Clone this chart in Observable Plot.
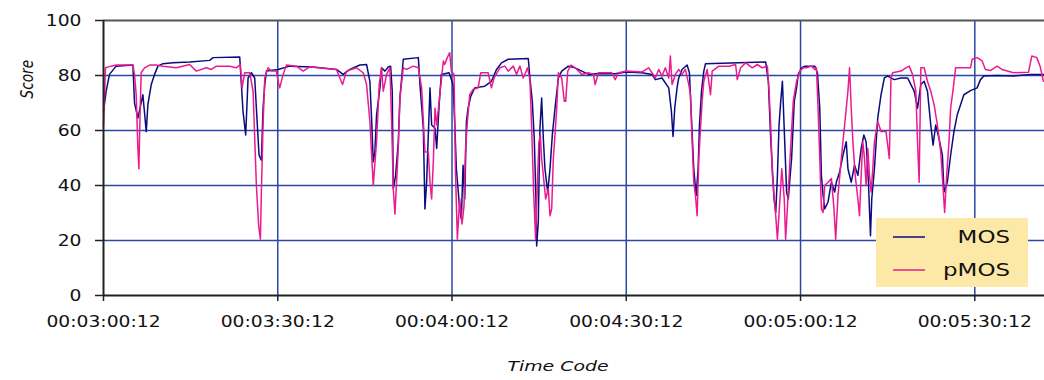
<!DOCTYPE html>
<html>
<head>
<meta charset="utf-8">
<script src="https://cdn.jsdelivr.net/npm/d3@7"></script>
<script src="https://cdn.jsdelivr.net/npm/@observablehq/plot@0.6"></script>
<style>
  html, body { margin: 0; padding: 0; background: #fff; }
</style>
</head>
<body>
<div id="chart"></div>
<script>
// ---- data (seconds after 00:03:00:12, score) ----
const seriesNames = ["MOS", "pMOS"];
const tickSeconds = [0, 30, 60, 90, 120, 150];
const tickLabels = ["00:03:00:12", "00:03:30:12", "00:04:00:12", "00:04:30:12", "00:05:00:12", "00:05:30:12"];
const yTicks = [0, 20, 40, 60, 80, 100];

const mosTime = [0,0.46,1.03,2.18,5.06,5.34,5.92,6.78,7.36,7.64,8.22,8.79,9.37,10.23,11.95,14.83,18.28,18.85,23.45,24.02,24.48,24.89,25.46,26.03,26.32,26.78,27.18,27.47,27.76,28.05,30.06,32.07,36.1,40.1,41.26,42.41,44.14,45.29,45.86,46.15,46.44,46.72,47.01,47.59,47.87,48.45,49.02,49.43,49.71,49.89,50.29,50.75,51.03,51.61,54.2,54.48,55.06,55.34,55.63,56.21,56.49,57.07,57.36,57.8,58.16,59.5,
60.17,60.46,60.75,61.32,61.61,61.90,62.19,62.48,62.76,63.22,63.91,65.64,66.79,67.66,68.52,69.67,73.13,73.41,73.82,74.16,74.45,74.57,74.85,75.14,75.43,75.72,76.0,76.47,76.87,77.27,77.73,78.31,78.88,80.03,81.19,82.34,83.49,85.22,88.09,89.99,92.70,94.43,95.0,96.15,97.31,97.77,98.05,98.34,98.74,99.03,99.61,100.47,100.87,101.22,101.62,102.03,102.37,102.60,102.95,103.35,103.64,114.0,114.46,114.86,115.15,115.44,115.73,116.02,116.30,116.59,116.88,
117.32,117.60,117.89,118.46,118.92,119.32,119.60,120.17,120.74,122.45,122.91,123.31,123.59,123.88,124.16,124.73,125.31,125.88,126.16,126.73,127.30,127.87,128.16,128.73,129.30,129.87,130.44,130.90,131.29,131.69,132.04,132.26,132.72,133.29,133.86,134.43,135.0,136.14,137.28,138.43,139.0,139.57,140.14,140.71,141.28,141.85,142.42,142.82,143.27,143.84,144.42,144.70,145.27,145.84,146.41,146.98,147.55,148.12,149.26,150.40,150.98,151.55,153.83,156.68,159.53,161.93];
const mosScore = [66.9,74.3,80.4,83.4,83.8,70.0,64.5,73.0,59.6,69.4,76.7,80.4,83.4,84.3,84.6,84.9,85.5,86.5,86.7,66.9,58.4,79.1,81.0,79.1,68.1,51.0,49.2,68.1,76.7,81.6,82.2,83.4,83.1,82.2,80.4,82.2,83.8,84.0,77.9,64.5,48.6,52.2,65.7,75.5,82.8,81.6,83.1,83.4,74.3,38.8,43.7,55.9,71.8,85.9,86.5,76.7,60.8,31.5,41.2,75.5,62.0,60.8,53.5,70.0,80.4,81.0,
76.7,63.3,46.1,31.5,27.8,47.4,35.1,63.3,68.1,72.4,75.5,76.1,77.9,82.2,84.6,85.9,86.2,79.1,70.6,57.1,35.1,18.0,26.6,60.8,71.8,57.1,46.1,37.6,46.1,58.4,68.1,79.1,81.6,83.4,82.8,81.6,80.4,80.7,80.6,81.3,81.0,80.4,78.5,79.1,75.5,66.9,57.8,68.1,75.5,79.1,82.2,83.8,81.0,64.5,46.1,36.4,46.1,62.0,74.3,81.6,84.3,84.9,77.9,57.1,46.1,35.1,30.2,43.7,62.0,70.6,77.9,
53.5,37.6,35.1,49.8,70.6,75.5,80.4,82.8,83.4,83.4,81.0,68.1,43.7,36.4,31.5,34.0,41.2,37.6,41.2,44.9,51.0,55.9,46.1,41.2,47.4,43.7,53.5,58.4,55.9,41.2,21.7,35.1,46.1,64.5,73.0,79.1,79.8,78.5,79.1,79.1,76.7,74.3,68.1,76.7,77.9,74.3,62.0,54.7,62.0,57.1,51.0,37.6,41.2,51.0,59.6,65.7,69.4,73.0,74.5,75.5,78.5,79.8,80.0,79.8,80.4,80.4];

const pmosTime = [0,0.34,1.32,2.18,5.06,5.34,5.63,5.92,6.09,6.32,6.49,7.07,7.93,9.08,10.23,12.53,14.83,15.98,17.70,18.56,19.43,21.72,22.87,23.56,23.85,24.31,25.17,25.75,26.32,26.72,27.01,27.18,27.47,27.76,28.33,28.91,29.77,30.06,30.34,30.92,31.49,33.22,34.37,35.52,37.82,40.11,40.69,41.15,41.84,43.56,44.71,45.29,45.86,46.44,47.01,47.47,47.87,48.16,48.74,49.31,49.60,49.89,50.17,50.75,51.03,51.61,52.18,53.33,54.20,54.77,55.34,55.92,56.21,56.49,56.78,57.07,57.36,58.51,
58.73,59.19,59.60,59.88,60.35,60.58,60.92,61.32,61.73,62.07,62.30,62.65,63.05,63.63,64.49,64.95,66.22,66.79,67.25,68.23,69.10,69.67,70.54,71.11,71.69,72.26,73.01,73.41,73.70,74.05,74.39,74.74,74.97,75.20,75.43,75.72,76.12,76.58,76.87,77.16,77.44,77.73,78.02,78.31,78.88,79.34,79.57,79.92,80.50,81.19,82.34,83.49,84.35,84.64,85.22,87.52,88.09,88.67,89.99,92.70,93.85,94.43,95.0,95.58,96.15,96.73,97.31,97.59,97.88,98.46,99.03,99.61,100.18,100.76,101.05,101.34,101.62,101.91,102.20,102.49,102.78,103.06,103.35,103.93,104.50,104.79,105.94,107.67,108.82,109.11,109.68,110.55,111.70,112.56,113.42,114.29,114.58,114.86,115.15,115.44,115.73,116.02,116.42,116.77,
117.20,117.43,117.89,118.35,118.75,119.03,119.32,119.89,120.46,121.03,121.88,122.45,122.74,123.02,123.31,123.59,123.88,124.16,124.73,125.31,125.76,126.05,126.45,127.02,127.59,128.16,128.44,128.73,129.01,129.41,129.87,130.15,130.44,130.72,131.01,131.29,131.58,131.87,132.15,132.44,132.72,133.29,133.86,134.72,135.29,135.57,135.86,137.28,138.14,138.71,139.28,139.85,140.14,140.42,140.71,141.28,141.85,142.42,142.99,143.56,144.13,144.59,144.81,145.16,145.56,145.84,146.30,146.70,148.12,149.26,149.55,150.40,151.26,151.83,152.69,153.83,154.68,156.68,159.25,159.82,160.67,161.24,161.81];
const pmosScore = [62,82.8,83.4,83.8,83.8,80.4,73.0,53.5,46.1,68.1,81.0,82.8,83.8,83.8,83.4,82.8,84.0,81.6,82.8,82.2,83.4,83.4,82.8,84.0,75.5,81.0,81.0,74.3,40.0,25.3,20.5,37.6,62.0,79.1,82.8,81.6,81.6,77.9,75.5,80.4,83.8,83.4,81.6,83.1,82.6,82.2,79.1,76.7,81.6,82.8,81.0,76.7,63.3,40.0,55.9,76.7,82.8,74.3,80.4,82.8,63.3,38.8,29.6,53.5,71.8,82.8,82.2,83.4,82.8,75.5,52.2,52.2,41.2,35.1,48.6,68.1,62.0,85.3,
84.0,86.5,88.3,81.6,80.4,46.1,20.5,35.1,26.0,32.7,52.2,63.3,73.0,74.9,75.5,81.0,81.0,75.5,79.1,82.8,83.4,81.6,83.4,80.4,83.4,79.1,82.8,78.5,62.0,37.6,20.5,43.7,55.9,58.4,49.8,43.7,35.1,38.8,29.0,31.5,49.8,58.4,68.1,81.0,79.1,70.6,70.6,81.6,83.8,82.8,80.4,81.0,80.4,76.7,81.0,81.0,78.5,81.0,81.6,81.3,82.8,81.0,79.1,82.2,79.8,82.8,79.1,87.1,76.7,80.4,82.2,80.4,82.2,76.7,73.0,55.9,41.2,36.4,29.0,49.8,60.8,70.6,77.9,82.2,73.0,81.6,83.4,83.4,84.0,78.5,82.8,84.6,82.8,84.0,82.8,83.4,74.3,62.0,43.7,36.4,29.0,20.5,33.9,46.1,
35.1,20.5,37.6,55.9,70.6,74.3,77.9,81.6,82.8,82.8,83.4,82.2,82.8,68.1,49.8,31.5,30.2,40.0,41.2,42.5,31.5,20.5,36.4,49.8,62.0,74.3,82.8,68.1,55.9,43.7,35.1,29.0,43.7,55.9,49.8,40.0,53.5,43.7,37.6,46.1,55.9,63.3,59.6,59.6,49.8,79.1,81.0,81.6,82.8,83.4,80.4,74.3,55.9,41.2,82.8,82.8,77.9,74.3,69.4,62.0,52.2,37.6,30.2,43.7,55.9,68.1,75.5,82.8,82.8,82.8,85.9,86.5,85.3,82.2,81.8,83.4,82.2,81.0,81.2,87.1,86.5,83.4,77.9];

const mosRows = mosTime.map((t, i) => ({t, v: mosScore[i], s: seriesNames[0]}));
const pmosRows = pmosTime.map((t, i) => ({t, v: pmosScore[i], s: seriesNames[1]}));

const gridBlue = "#2b48a8";
const mosColor = "#0b0b80";
const pmosColor = "#ec1a8f";
const axisColor = "#222";

const chart = Plot.plot({
  width: 1044,
  height: 380,
  marginLeft: 103,
  marginRight: 0,
  marginTop: 20,
  marginBottom: 85,
  style: {fontFamily: "'DejaVu Sans', Verdana, sans-serif", fontSize: "16px", color: "#111", background: "#fff"},
  x: {domain: [0, 162]},
  y: {domain: [0, 100]},
  marks: [
    Plot.ruleY(yTicks.filter(d => d > 0 && d < 100), {stroke: gridBlue, strokeWidth: 1.5}),
    Plot.ruleX(tickSeconds.filter(d => d > 0), {stroke: gridBlue, strokeWidth: 1.5}),
    Plot.ruleY([100], {stroke: "#555", strokeWidth: 2}),
    Plot.line(mosRows, {x: "t", y: "v", stroke: mosColor, strokeWidth: 1.5}),
    Plot.line(pmosRows, {x: "t", y: "v", stroke: pmosColor, strokeWidth: 1.5}),
    Plot.ruleY([0], {stroke: axisColor, strokeWidth: 2}),
    Plot.ruleX([0], {stroke: axisColor, strokeWidth: 2}),
    Plot.axisY({ticks: yTicks, tickSize: 8, tickPadding: 14, fontSize: 16, label: null, stroke: axisColor, strokeWidth: 1.5}),
    Plot.axisX({ticks: tickSeconds, tickFormat: d => tickLabels[tickSeconds.indexOf(d)], tickSize: 6, tickPadding: 14, fontSize: 16, label: null, stroke: axisColor, strokeWidth: 1.5}),
    Plot.text(["Score"], {text: d => d, frameAnchor: "top-left", dx: -83, dy: 78, rotate: -90, fontStyle: "italic", fontSize: 13, fill: "#111"}),
    Plot.text(["Time Code"], {text: d => d, frameAnchor: "bottom", dx: -16, dy: 75, fontStyle: "italic", fontSize: 14, fill: "#111"})
  ]
});

document.getElementById("chart").appendChild(chart);

// widen text horizontally (reference font is wide)
const svg = d3.select(chart);
function widen(sel, sx, sy) {
  sel.each(function() {
    const tr = this.getAttribute("transform");
    if (tr && tr.includes("translate")) {
      this.setAttribute("transform", tr + ` scale(${sx},${sy})`);
    } else {
      const x = +this.getAttribute("x") || 0;
      const y = +this.getAttribute("y") || 0;
      this.setAttribute("x", 0); this.setAttribute("y", 0);
      this.setAttribute("transform", `translate(${x},${y}) scale(${sx},${sy})` + (tr ? " " + tr : ""));
    }
  });
}
const allText = svg.selectAll("text");
widen(allText.filter(function() { return tickLabels.includes(this.textContent) || yTicks.map(String).includes(this.textContent); }), 1.17, 1);
widen(allText.filter(function() { return this.textContent === "Time Code"; }), 1.35, 1);
// rotated label: local y maps to screen x after rotate(-90)
widen(allText.filter(function() { return this.textContent === "Score"; }), 1.05, 1.35);

// legend box
const lg = svg.append("g").attr("font-family", "'DejaVu Sans', Verdana, sans-serif");
lg.append("rect").attr("x", 876).attr("y", 218).attr("width", 152).attr("height", 69).attr("fill", "#fce9a7");
const items = [{name: seriesNames[0], color: mosColor, y: 237}, {name: seriesNames[1], color: pmosColor, y: 270}];
items.forEach(it => {
  lg.append("text").attr("text-anchor", "end").attr("dy", "0.35em")
    .attr("font-size", 17).attr("fill", "#111").text(it.name)
    .attr("transform", `translate(1010,${it.y}) scale(1.35,1)`);
  lg.append("line").attr("x1", 893).attr("x2", 925).attr("y1", it.y).attr("y2", it.y).attr("stroke", it.color).attr("stroke-width", 1.5);
});
</script>
</body>
</html>
